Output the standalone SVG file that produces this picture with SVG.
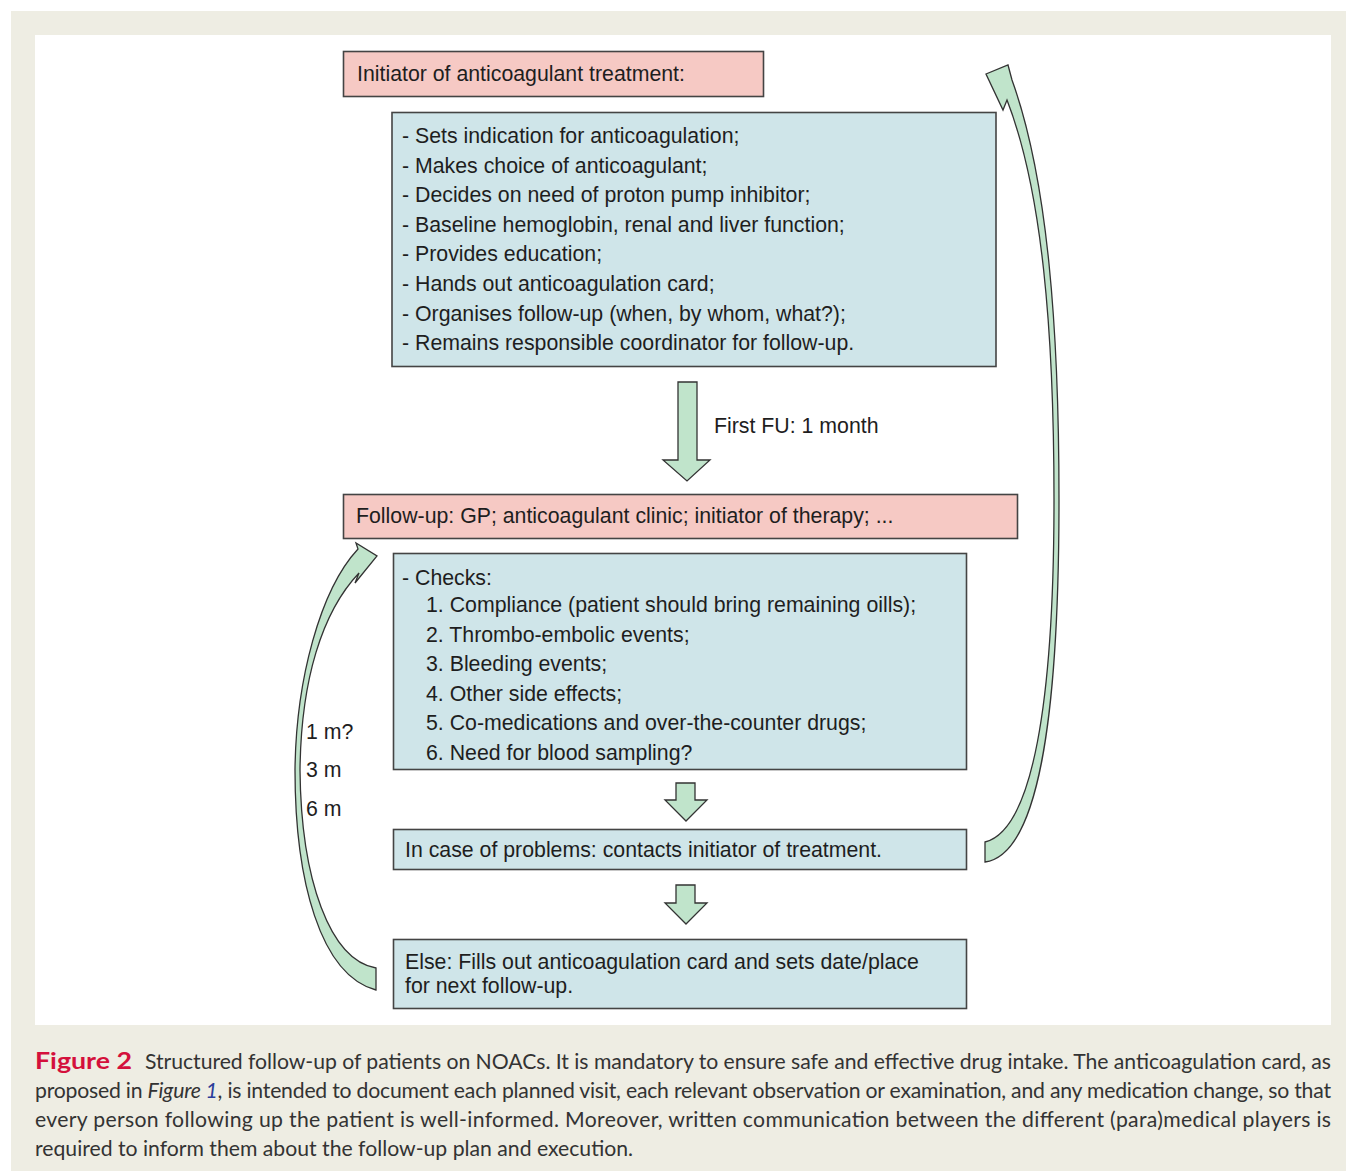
<svg xmlns="http://www.w3.org/2000/svg" width="1346" height="1171" viewBox="0 0 1346 1171">
<defs>
<style>
.bg{fill:#eeede3}
.panel{fill:#ffffff}
.pink{fill:#f6c9c4;stroke:#444;stroke-width:1.6}
.blue{fill:#cfe5e9;stroke:#444;stroke-width:1.6}
.arr{fill:#c0e4cb;stroke:#333;stroke-width:1.3;stroke-linejoin:miter}
.t{font-family:"Liberation Sans",Arial,sans-serif;font-size:21.3px;fill:#1e1e1e}
.cap{font-family:Lato,"Open Sans",sans-serif;font-size:21.2px;fill:#333}
.fig{font-family:Lato,"Open Sans",sans-serif;font-size:23px;font-weight:bold;fill:#d4103c}
.it{font-style:italic}
.blu{fill:#2b3d9a}
</style>
</defs>
<rect class="bg" x="11" y="11" width="1335" height="1160"/>
<rect class="panel" x="35" y="35" width="1296" height="990"/>

<g id="connectors">
<path id="arrow-first-fu" class="arr" d="M678,382 H697 V460 H710 L687,481 L663,460 H678 Z"/>
<path id="arrow-checks-problems" class="arr" d="M676,783 H695 V800 H707 L686,821 L665,800 H676 Z"/>
<path id="arrow-problems-else" class="arr" d="M676,885 H695 V903 H707 L686,924 L665,903 H676 Z"/>
<path id="arrow-back-initiator" class="arr" d="M985,842 C1033,830 1054,700 1054,500 C1054,330 1042,190 1007,100 L1003,110 L986,74 L1008,65 L1012,80 C1048,180 1059,330 1059,500 C1059,720 1038,855 985,862 Z"/>
<path id="arrow-back-followup" class="arr" d="M376,968 C330,960 301,880 300,770 C301,680 322,612 359,573 L355,583 L377,556 L356,543 L358,549 C320,590 296,680 295,770 C295,880 320,975 376,990 Z"/>
<text class="t" x="714" y="433">First FU: 1 month</text>
<text class="t" x="306" y="739">1 m?</text>
<text class="t" x="306" y="777">3 m</text>
<text class="t" x="306" y="816">6 m</text>
</g>

<g id="initiator">
<rect class="pink" x="343.5" y="51.5" width="420" height="45"/>
<text class="t" x="357" y="81">Initiator of anticoagulant treatment:</text>
</g>

<g id="initiator-tasks">
<rect class="blue" x="392" y="112.5" width="604" height="254"/>
<text class="t" x="402" y="143">- Sets indication for anticoagulation;</text>
<text class="t" x="402" y="172.6">- Makes choice of anticoagulant;</text>
<text class="t" x="402" y="202.2">- Decides on need of proton pump inhibitor;</text>
<text class="t" x="402" y="231.8">- Baseline hemoglobin, renal and liver function;</text>
<text class="t" x="402" y="261.4">- Provides education;</text>
<text class="t" x="402" y="291">- Hands out anticoagulation card;</text>
<text class="t" x="402" y="320.6">- Organises follow-up (when, by whom, what?);</text>
<text class="t" x="402" y="350.2">- Remains responsible coordinator for follow-up.</text>
</g>

<g id="followup">
<rect class="pink" x="343.5" y="494.5" width="674" height="44"/>
<text class="t" x="356" y="523">Follow-up: GP; anticoagulant clinic; initiator of therapy; ...</text>
</g>

<g id="checks">
<rect class="blue" x="393.5" y="553.5" width="573" height="216"/>
<text class="t" x="402" y="585">- Checks:</text>
<text class="t" x="426" y="612">1. Compliance (patient should bring remaining oills);</text>
<text class="t" x="426" y="641.5">2. Thrombo-embolic events;</text>
<text class="t" x="426" y="671">3. Bleeding events;</text>
<text class="t" x="426" y="700.5">4. Other side effects;</text>
<text class="t" x="426" y="730">5. Co-medications and over-the-counter drugs;</text>
<text class="t" x="426" y="759.5">6. Need for blood sampling?</text>
</g>

<g id="problems">
<rect class="blue" x="393.5" y="829.5" width="573" height="40"/>
<text class="t" x="405" y="857">In case of problems: contacts initiator of treatment.</text>
</g>

<g id="else">
<rect class="blue" x="393.5" y="939.5" width="573" height="69"/>
<text class="t" x="405" y="969">Else: Fills out anticoagulation card and sets date/place</text>
<text class="t" x="405" y="993">for next follow-up.</text>
</g>

<g id="caption">
<text class="fig" x="35" y="1069" textLength="97" lengthAdjust="spacingAndGlyphs">Figure 2</text>
<text class="cap" x="145" y="1069" textLength="1186" lengthAdjust="spacing">Structured follow-up of patients on NOACs. It is mandatory to ensure safe and effective drug intake. The anticoagulation card, as</text>
<text class="cap" x="35" y="1098" textLength="1296" lengthAdjust="spacing">proposed in <tspan class="it">Figure </tspan><tspan class="it blu">1</tspan>, is intended to document each planned visit, each relevant observation or examination, and any medication change, so that</text>
<text class="cap" x="35" y="1127" textLength="1296" lengthAdjust="spacing">every person following up the patient is well-informed. Moreover, written communication between the different (para)medical players is</text>
<text class="cap" x="35" y="1156">required to inform them about the follow-up plan and execution.</text>
</g>
</svg>
